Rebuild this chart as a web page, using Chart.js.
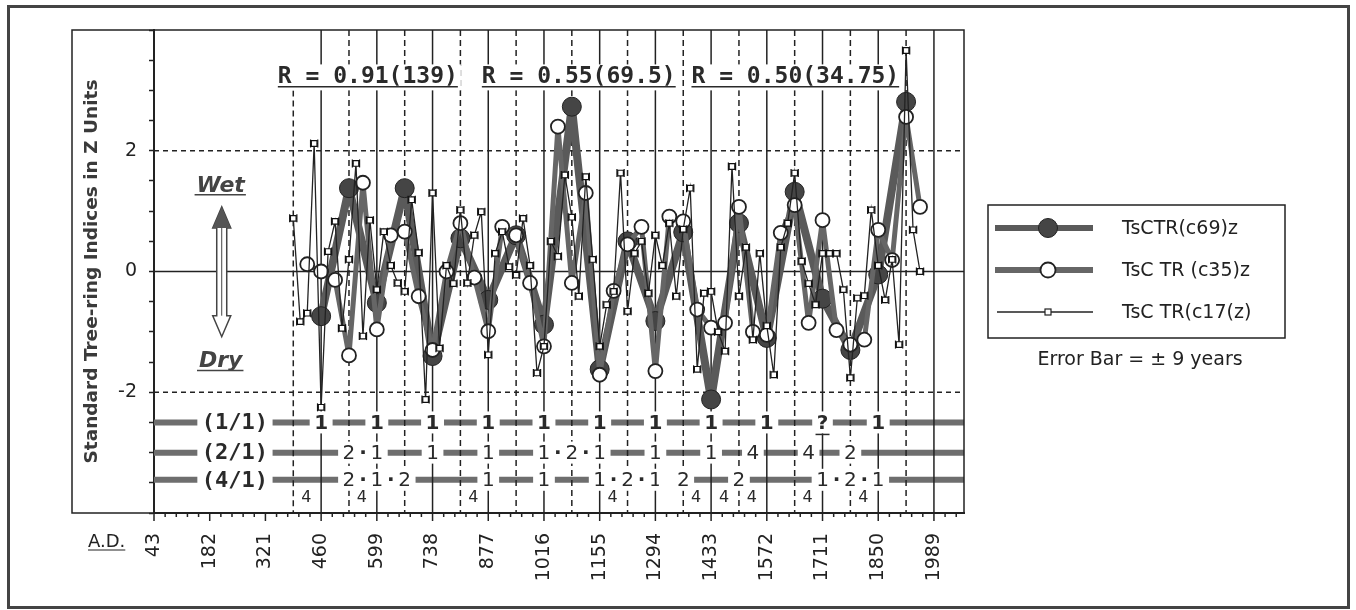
<!DOCTYPE html>
<html>
<head>
<meta charset="utf-8">
<script src="https://cdn.jsdelivr.net/npm/chart.js@4.4.1/dist/chart.umd.min.js"></script>
<style>
  html, body { margin: 0; padding: 0; background: #fff; }
  #wrap { width: 1356px; height: 610px; }
</style>
</head>
<body>
<div id="wrap"><canvas id="myChart" width="1356" height="610"></canvas></div>
<script>
// axis
const xTickYears = [43, 182, 321, 460, 599, 738, 877, 1016, 1155, 1294, 1433, 1572, 1711, 1850, 1989];
const yLabelValues = [2, 0, -2];
const solidYears = [460, 599, 738, 877, 1016, 1155, 1294, 1433, 1572, 1711, 1850, 1989];
const dashedYears = [390.5, 529.5, 668.5, 807.5, 946.5, 1085.5, 1224.5, 1363.5, 1502.5, 1641.5, 1780.5, 1919.5];

// TsCTR(c69)z
const c69Years = [460, 529.5, 599, 668.5, 738, 807.5, 877, 946.5, 1016, 1085.5,
  1155, 1224.5, 1294, 1363.5, 1433, 1502.5, 1572, 1641.5, 1711, 1780.5,
  1850, 1919.5];
const c69Values = [-0.74, 1.38, -0.52, 1.38, -1.40, 0.55, -0.47, 0.6, -0.88, 2.73,
  -1.62, 0.5, -0.82, 0.65, -2.12, 0.8, -1.1, 1.32, -0.45, -1.3,
  -0.05, 2.81];

// TsC TR (c35)z
const c35Years = [425.3, 460, 494.8, 529.5, 564.3, 599, 633.8, 668.5, 703.3, 738,
  772.8, 807.5, 842.3, 877, 911.8, 946.5, 981.3, 1016, 1050.8, 1085.5,
  1120.3, 1155, 1189.8, 1224.5, 1259.3, 1294, 1328.8, 1363.5, 1398.3, 1433,
  1467.8, 1502.5, 1537.3, 1572, 1606.8, 1641.5, 1676.3, 1711, 1745.8, 1780.5,
  1815.3, 1850, 1884.8, 1919.5, 1954.3];
const c35Values = [0.12, 0.0, -0.14, -1.39, 1.47, -0.96, 0.6, 0.66, -0.41, -1.3,
  0.0, 0.8, -0.1, -0.99, 0.74, 0.6, -0.19, -1.24, 2.4, -0.19,
  1.3, -1.71, -0.32, 0.45, 0.74, -1.65, 0.91, 0.83, -0.63, -0.93,
  -0.85, 1.07, -1.0, -1.05, 0.64, 1.1, -0.85, 0.85, -0.97, -1.21,
  -1.13, 0.69, 0.19, 2.56, 1.07];

// TsC TR(c17(z)
const c17Years = [390.5, 407.9, 425.3, 442.6, 460.0, 477.4, 494.8, 512.1, 529.5, 546.9,
  564.3, 581.6, 599.0, 616.4, 633.8, 651.1, 668.5, 685.9, 703.3, 720.6,
  738.0, 755.4, 772.8, 790.1, 807.5, 824.9, 842.3, 859.6, 877.0, 894.4,
  911.8, 929.1, 946.5, 963.9, 981.3, 998.6, 1016.0, 1033.4, 1050.8, 1068.1,
  1085.5, 1102.9, 1120.3, 1137.6, 1155.0, 1172.4, 1189.8, 1207.1, 1224.5, 1241.9,
  1259.3, 1276.6, 1294.0, 1311.4, 1328.8, 1346.1, 1363.5, 1380.9, 1398.3, 1415.6,
  1433.0, 1450.4, 1467.8, 1485.1, 1502.5, 1519.9, 1537.3, 1554.6, 1572.0, 1589.4,
  1606.8, 1624.1, 1641.5, 1658.9, 1676.3, 1693.6, 1711.0, 1728.4, 1745.8, 1763.1,
  1780.5, 1797.9, 1815.3, 1832.6, 1850.0, 1867.4, 1884.8, 1902.1, 1919.5, 1936.9,
  1954.3];
const c17Values = [0.88, -0.83, -0.69, 2.12, -2.25, 0.33, 0.83, -0.94, 0.2, 1.79,
  -1.07, 0.85, -0.3, 0.66, 0.1, -0.19, -0.33, 1.19, 0.31, -2.12,
  1.3, -1.27, 0.1, -0.2, 1.02, -0.19, 0.6, 0.99, -1.38, 0.3,
  0.66, 0.08, -0.06, 0.88, 0.1, -1.68, -1.24, 0.5, 0.25, 1.6,
  0.9, -0.41, 1.57, 0.2, -1.24, -0.55, -0.33, 1.63, -0.66, 0.3,
  0.5, -0.36, 0.6, 0.1, 0.8, -0.41, 0.7, 1.38, -1.62, -0.36,
  -0.33, -1.0, -1.32, 1.74, -0.41, 0.4, -1.13, 0.3, -0.9, -1.71,
  0.4, 0.8, 1.63, 0.17, -0.2, -0.55, 0.3, 0.3, 0.3, -0.3,
  -1.76, -0.44, -0.4, 1.02, 0.1, -0.47, 0.2, -1.21, 3.66, 0.69,
  0.0];
const errorBarYears = 9;

// correlation labels
const rLabels = ['R = 0.91(139)', 'R = 0.55(69.5)', 'R = 0.50(34.75)'];
const rLabelYears = [352, 861, 1384];

// ratio rows at the bottom
const row1Years = [460, 599, 738, 877, 1016, 1155, 1294, 1433, 1572, 1711, 1850];
const row1Marks = ['1', '1', '1', '1', '1', '1', '1', '1', '1', '?', '1'];
const row2Years = [529.5, 564.3, 599, 738, 877, 1016, 1050.8, 1085.5, 1120.3, 1155, 1294, 1433, 1537.3, 1676.3, 1780.5];
const row2Marks = ['2', '·', '1', '1', '1', '1', '·', '2', '·', '1', '1', '1', '4', '4', '2'];
const row3Years = [529.5, 564.3, 599, 633.8, 668.5, 877, 1016, 1155, 1189.8, 1224.5, 1259.3, 1294, 1328.8, 1363.5, 1502.5, 1711, 1745.8, 1780.5, 1815.3, 1850];
const row3Marks = ['2', '·', '1', '·', '2', '1', '1', '1', '·', '2', '·', '1', ' ', '2', '2', '1', '·', '2', '·', '1'];
const fourYears = [425.3, 564.3, 842.3, 1189.8, 1398.3, 1467.8, 1537.3, 1676.3, 1815.3];

const rows = [
  { label: '(1/1)', y: -2.5, years: row1Years, marks: row1Marks, bold: true },
  { label: '(2/1)', y: -3.0, years: row2Years, marks: row2Marks, bold: false },
  { label: '(4/1)', y: -3.45, years: row3Years, marks: row3Marks, bold: false },
];

const legendNames = ['TsCTR(c69)z', 'TsC TR (c35)z', 'TsC TR(c17(z)'];

function pts(xs, ys) {
  return xs.map((v, i) => ({ x: v, y: ys[i] }));
}

function line(ctx, x1, y1, x2, y2) {
  ctx.beginPath();
  ctx.moveTo(x1, y1);
  ctx.lineTo(x2, y2);
  ctx.stroke();
}

function token(ctx, text, cx, cy, font) {
  ctx.font = font;
  const w = text.trim() ? ctx.measureText(text).width : 12;
  const bw = text === '·' ? 8 : w + 9;
  ctx.fillStyle = '#fff';
  ctx.fillRect(cx - bw / 2, cy - 11, bw, 22);
  ctx.fillStyle = '#2a2a2a';
  ctx.textAlign = 'center';
  ctx.textBaseline = 'middle';
  ctx.fillText(text, cx, cy + 1);
  if (text === '?') {
    ctx.strokeStyle = '#2a2a2a';
    ctx.lineWidth = 1.5;
    line(ctx, cx - 7, cy + 12, cx + 7, cy + 12);
  }
}

const decor = {
  id: 'decor',
  beforeDatasetsDraw(chart) {
    const { ctx, chartArea: a, scales: { x, y } } = chart;
    ctx.save();

    // thick ratio rows
    ctx.strokeStyle = '#6e6e6e';
    ctx.lineWidth = 6;
    rows.forEach(r => line(ctx, a.left, y.getPixelForValue(r.y), a.right, y.getPixelForValue(r.y)));

    // vertical lines
    ctx.strokeStyle = '#222';
    ctx.lineWidth = 1.5;
    solidYears.forEach(v => line(ctx, x.getPixelForValue(v), a.top, x.getPixelForValue(v), a.bottom));
    ctx.setLineDash([6, 4]);
    dashedYears.forEach((v, i) => {
      const top = i === 0 ? y.getPixelForValue(3.0) : a.top;
      line(ctx, x.getPixelForValue(v), top, x.getPixelForValue(v), a.bottom);
    });

    // horizontal reference lines
    ctx.setLineDash([5, 4]);
    [2, -2].forEach(v => line(ctx, a.left, y.getPixelForValue(v), a.right, y.getPixelForValue(v)));
    ctx.setLineDash([]);
    line(ctx, a.left, y.getPixelForValue(0), a.right, y.getPixelForValue(0));

    // row labels and marks
    rows.forEach(r => {
      const cy = y.getPixelForValue(r.y);
      token(ctx, r.label, x.getPixelForValue(245), cy, 'bold 22px "DejaVu Sans Mono"');
      const f = r.bold ? 'bold 20px "DejaVu Sans"' : '20px "DejaVu Sans"';
      r.years.forEach((v, i) => token(ctx, r.marks[i], x.getPixelForValue(v), cy, r.marks[i] === '·' ? 'bold 20px "DejaVu Sans"' : f));
    });
    ctx.font = '16px "DejaVu Sans"';
    ctx.fillStyle = '#2a2a2a';
    ctx.textAlign = 'center';
    ctx.textBaseline = 'middle';
    fourYears.forEach(v => ctx.fillText('4', x.getPixelForValue(v) - 1, y.getPixelForValue(-3.75)));

    // correlation labels
    ctx.font = 'bold 23px "DejaVu Sans Mono"';
    ctx.textAlign = 'left';
    ctx.textBaseline = 'alphabetic';
    rLabels.forEach((t, i) => {
      const lx = x.getPixelForValue(rLabelYears[i]);
      const w = ctx.measureText(t).width;
      ctx.fillStyle = '#fff';
      ctx.fillRect(lx - 3, y.getPixelForValue(3.43), w + 6, y.getPixelForValue(3.0) - y.getPixelForValue(3.43));
      ctx.fillStyle = '#2a2a2a';
      ctx.fillText(t, lx, y.getPixelForValue(3.12));
      ctx.strokeStyle = '#2a2a2a';
      ctx.lineWidth = 1.5;
      line(ctx, lx, y.getPixelForValue(3.06), lx + w, y.getPixelForValue(3.06));
    });

    // Wet / Dry with double arrow
    const cx = x.getPixelForValue(212);
    ctx.font = 'italic bold 22px "DejaVu Sans"';
    ctx.textAlign = 'center';
    ctx.fillStyle = '#444';
    [['Wet', 1.32], ['Dry', -1.59]].forEach(([t, v]) => {
      const by = y.getPixelForValue(v);
      ctx.fillText(t, cx - 1, by);
      const w = ctx.measureText(t).width;
      ctx.strokeStyle = '#444';
      ctx.lineWidth = 1.5;
      line(ctx, cx - w / 2 - 3, by + 3, cx + w / 2, by + 3);
    });
    const yt = y.getPixelForValue(1.07), yb = y.getPixelForValue(-1.08);
    const hw = 9, hh = 21, sw = 5;
    ctx.beginPath();
    ctx.moveTo(cx, yt);
    ctx.lineTo(cx + hw, yt + hh); ctx.lineTo(cx + sw, yt + hh);
    ctx.lineTo(cx + sw, yb - hh); ctx.lineTo(cx + hw, yb - hh);
    ctx.lineTo(cx, yb);
    ctx.lineTo(cx - hw, yb - hh); ctx.lineTo(cx - sw, yb - hh);
    ctx.lineTo(cx - sw, yt + hh); ctx.lineTo(cx - hw, yt + hh);
    ctx.closePath();
    ctx.fillStyle = '#fff';
    ctx.fill();
    ctx.strokeStyle = '#444';
    ctx.lineWidth = 1.5;
    ctx.stroke();
    ctx.beginPath();
    ctx.moveTo(cx, yt);
    ctx.lineTo(cx + hw, yt + hh);
    ctx.lineTo(cx - hw, yt + hh);
    ctx.closePath();
    ctx.fillStyle = '#555';
    ctx.fill();
    ctx.lineWidth = 1;
    line(ctx, cx, yt + hh, cx, yb - hh);

    ctx.restore();
  },
  afterDatasetsDraw(chart) {
    const { ctx, scales: { x, y } } = chart;
    ctx.save();
    ctx.strokeStyle = '#111';
    ctx.lineWidth = 1.2;
    c17Years.forEach((v, i) => {
      const py = y.getPixelForValue(c17Values[i]);
      const px = x.getPixelForValue(v);
      const x0 = x.getPixelForValue(v - errorBarYears);
      const x1 = x.getPixelForValue(v + errorBarYears);
      line(ctx, x0, py - 4, x0, py + 4);
      line(ctx, x1, py - 4, x1, py + 4);
      line(ctx, x0, py, px - 2.8, py);
      line(ctx, px + 2.8, py, x1, py);
    });
    ctx.restore();
  },
  afterDraw(chart) {
    const { ctx, chartArea: a, scales: { x, y } } = chart;
    ctx.save();

    // frames
    ctx.strokeStyle = '#222';
    ctx.lineWidth = 1.5;
    ctx.strokeRect(y.left, a.top, a.right - y.left, a.bottom - a.top);
    ctx.strokeStyle = '#444';
    ctx.lineWidth = 3;
    ctx.strokeRect(8.5, 6.5, 1340, 601);

    // x ticks, major and minor
    ctx.strokeStyle = '#222';
    ctx.lineWidth = 1.5;
    const step = (xTickYears[1] - xTickYears[0]) / 5;
    for (let v = xTickYears[0]; v <= x.max; v += step) {
      const px = x.getPixelForValue(v);
      const major = xTickYears.some(t => Math.abs(t - v) < 0.5);
      line(ctx, px, a.bottom, px, a.bottom + (major ? 8 : 4));
    }

    // A.D.
    ctx.font = '18px "DejaVu Sans"';
    ctx.fillStyle = '#222';
    ctx.textAlign = 'left';
    ctx.textBaseline = 'alphabetic';
    ctx.fillText('A.D.', y.left + 16, a.bottom + 34);
    const adw = ctx.measureText('A.D.').width;
    ctx.lineWidth = 1.2;
    line(ctx, y.left + 16, a.bottom + 37, y.left + 16 + adw, a.bottom + 37);

    // legend
    const lx = a.right + 24, ly = 205;
    ctx.strokeStyle = '#222';
    ctx.lineWidth = 1.5;
    ctx.strokeRect(lx, ly, 297, 133);
    const rowsY = [ly + 23, ly + 65, ly + 107];
    const mx = lx + 60;
    ctx.strokeStyle = '#5a5a5a';
    ctx.lineWidth = 6;
    line(ctx, lx + 7, rowsY[0], lx + 105, rowsY[0]);
    ctx.strokeStyle = '#666';
    line(ctx, lx + 7, rowsY[1], lx + 105, rowsY[1]);
    ctx.strokeStyle = '#222';
    ctx.lineWidth = 1.3;
    line(ctx, lx + 9, rowsY[2], lx + 105, rowsY[2]);
    ctx.beginPath();
    ctx.arc(mx, rowsY[0], 9.5, 0, Math.PI * 2);
    ctx.fillStyle = '#454545';
    ctx.fill();
    ctx.lineWidth = 1;
    ctx.stroke();
    ctx.beginPath();
    ctx.arc(mx, rowsY[1], 7.5, 0, Math.PI * 2);
    ctx.fillStyle = '#fff';
    ctx.fill();
    ctx.lineWidth = 1.8;
    ctx.stroke();
    ctx.fillRect(mx - 3, rowsY[2] - 3, 6, 6);
    ctx.lineWidth = 1.2;
    ctx.strokeRect(mx - 3, rowsY[2] - 3, 6, 6);

    ctx.font = '19px "DejaVu Sans"';
    ctx.fillStyle = '#222';
    ctx.textBaseline = 'middle';
    legendNames.forEach((t, i) => ctx.fillText(t, lx + 134, rowsY[i] + 1));
    ctx.textAlign = 'center';
    ctx.fillText('Error Bar = ± 9 years', lx + 152, ly + 155);

    ctx.restore();
  }
};

new Chart(document.getElementById('myChart'), {
  type: 'line',
  data: {
    datasets: [
      {
        label: legendNames[0],
        data: pts(c69Years, c69Values),
        borderColor: '#5a5a5a',
        borderWidth: 8,
        borderJoinStyle: 'round',
        pointRadius: 9.5,
        pointBackgroundColor: '#454545',
        pointBorderColor: '#222',
        pointBorderWidth: 1,
        order: 2,
      },
      {
        label: legendNames[1],
        data: pts(c35Years, c35Values),
        borderColor: '#666',
        borderWidth: 5,
        borderJoinStyle: 'round',
        pointRadius: 7,
        pointBackgroundColor: '#fff',
        pointBorderColor: '#222',
        pointBorderWidth: 1.8,
        order: 1,
      },
      {
        label: legendNames[2],
        data: pts(c17Years, c17Values),
        borderColor: '#222',
        borderWidth: 1.3,
        pointStyle: 'rect',
        pointRadius: 4,
        pointBackgroundColor: '#fff',
        pointBorderColor: '#111',
        pointBorderWidth: 1.2,
        order: 0,
      },
    ],
  },
  options: {
    responsive: false,
    animation: false,
    devicePixelRatio: 1,
    layout: { padding: { left: 72, right: 392, top: 30, bottom: 0 } },
    plugins: { legend: { display: false }, tooltip: { enabled: false } },
    scales: {
      x: {
        type: 'linear',
        min: 43,
        max: 2064,
        afterBuildTicks: s => { s.ticks = xTickYears.map(v => ({ value: v })); },
        afterFit: s => { s.height = 97; },
        ticks: {
          minRotation: 90,
          maxRotation: 90,
          autoSkip: false,
          padding: 12,
          color: '#222',
          font: { family: 'DejaVu Sans', size: 19 },
          callback: v => String(v),
        },
        grid: { display: false },
        border: { display: true, color: '#222', width: 2 },
      },
      y: {
        min: -4,
        max: 4,
        afterFit: s => { s.width = 82; },
        ticks: {
          stepSize: 0.5,
          autoSkip: false,
          padding: 12,
          color: '#222',
          font: { family: 'DejaVu Sans', size: 19 },
          callback: v => (yLabelValues.includes(v) ? String(v) : ''),
        },
        grid: { drawOnChartArea: false, drawTicks: true, tickLength: 5, tickColor: '#222', tickWidth: 1.5 },
        border: { display: true, color: '#222', width: 2 },
        title: {
          display: true,
          text: 'Standard Tree-ring Indices in Z Units',
          color: '#3a3a3a',
          font: { family: 'DejaVu Sans', size: 18.5, weight: 'bold' },
          padding: { top: 9, bottom: 0 },
        },
      },
    },
  },
  plugins: [decor],
});
</script>
</body>
</html>
